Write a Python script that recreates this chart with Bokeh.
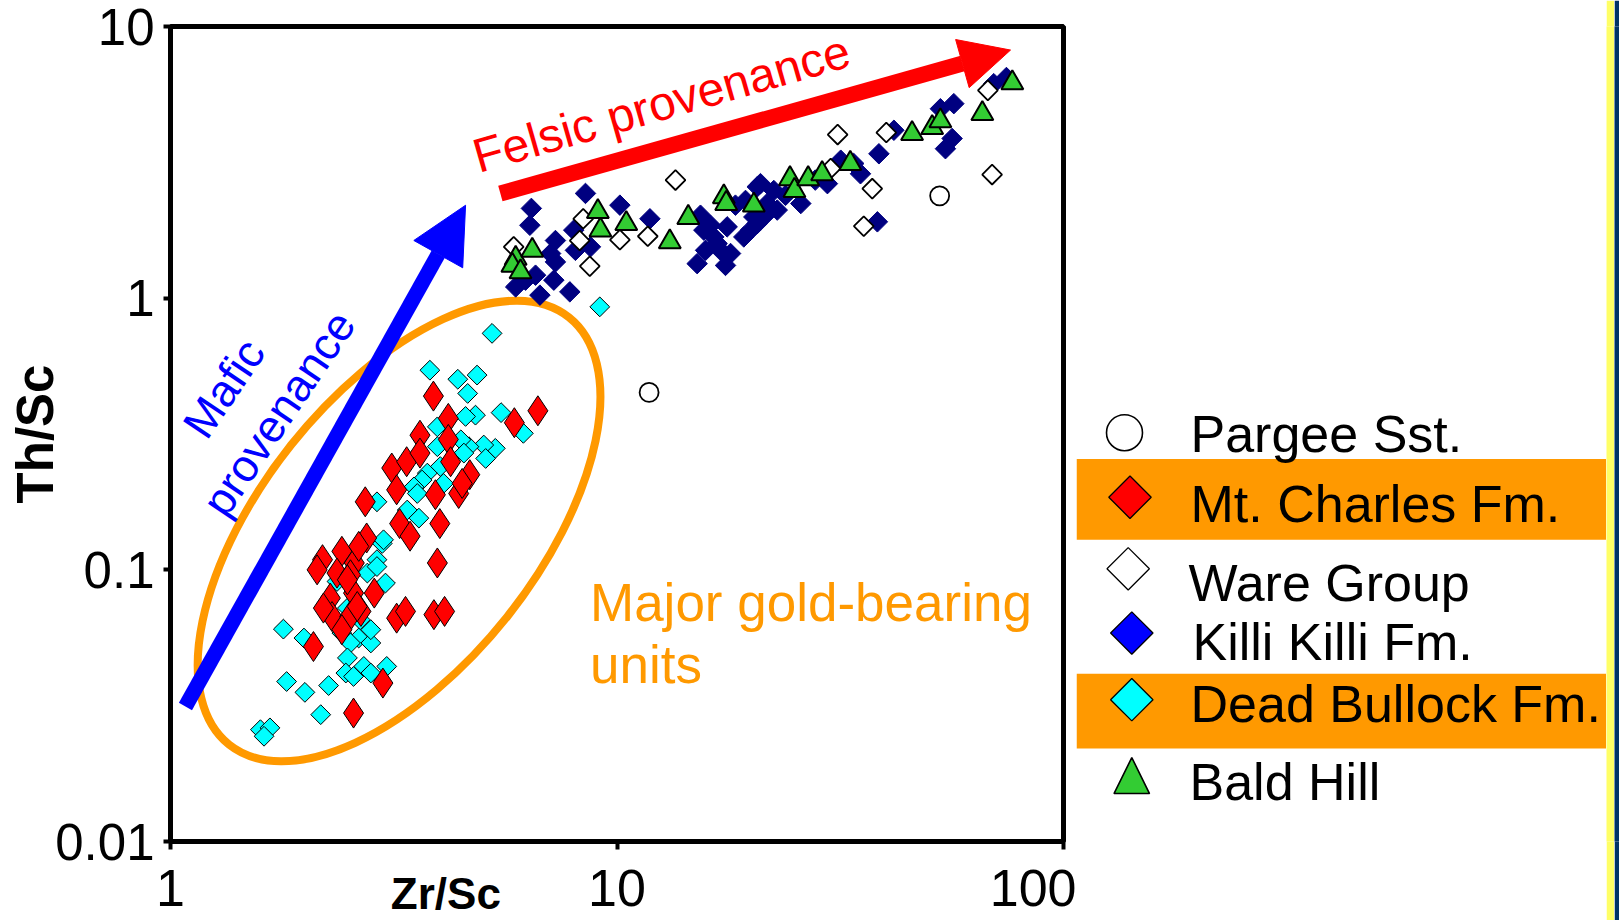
import numpy as np
from bokeh.plotting import figure
from bokeh.models import (Range1d, FixedTicker, CustomJSTickFormatter, Label,
                          Arrow, NormalHead, LogAxis)
from bokeh.layouts import row
from bokeh.embed import file_html
from bokeh.resources import INLINE
from bokeh.core.properties import value

# ---------------- data (Zr/Sc vs Th/Sc) ----------------
pargee_zr = [52.8, 11.8]
pargee_th = [2.38, 0.450]

mtcharles_zr = [3.88, 6.65, 5.89, 4.19, 3.62, 4.19, 3.13, 3.38, 3.62, 4.24, 4.68, 3.21,
                3.92, 4.42, 2.73, 3.26, 3.44, 4.01, 2.75, 2.42, 2.19, 2.13, 2.36, 2.58,
                2.53, 3.96, 2.28, 2.57, 2.86, 2.30, 2.52, 2.67, 2.42, 3.21, 3.36, 3.89,
                4.11, 2.09, 2.99, 2.57, 4.50, 2.64, 2.49, 2.62, 2.20]
mtcharles_th = [0.436, 0.385, 0.348, 0.361, 0.313, 0.302, 0.237, 0.250, 0.269, 0.250,
                0.224, 0.197, 0.189, 0.191, 0.178, 0.148, 0.133, 0.148, 0.131, 0.117,
                0.109, 0.100, 0.0973, 0.106, 0.0959, 0.106, 0.0787, 0.0821, 0.0821,
                0.0673, 0.0673, 0.0703, 0.0602, 0.0664, 0.0703, 0.0684, 0.0703, 0.0522,
                0.0383, 0.0297, 0.208, 0.122, 0.0919, 0.0733, 0.0723]

ware_zr = [13.52, 8.40, 5.87, 8.25, 10.15, 11.72, 8.69, 31.2, 40.1, 67.7, 69.2, 37.3,
           35.7, 30.1]
ware_th = [2.72, 1.96, 1.545, 1.63, 1.64, 1.69, 1.311, 4.00, 4.07, 5.82, 2.85, 2.53,
           1.84, 3.00]

killi_zr = [8.50, 6.43, 6.38, 10.15, 11.85, 8.00, 8.07, 8.72, 7.10, 7.28, 6.57, 7.22,
            5.93, 6.72, 7.84, 15.12, 15.65, 16.76, 17.65, 17.96, 19.23, 20.25, 20.61,
            16.48, 17.05, 56.8, 53.0, 41.7, 38.6, 56.3, 54.4, 69.8, 74.5, 38.3, 29.6,
            33.9, 35.1, 25.8, 20.96, 22.45, 21.7, 19.9, 20.6, 22.85, 31.7, 15.38, 16.2,
            18.42, 19.4, 15.79, 17.5, 21.5, 23.85, 27.8, 7.28, 6.24]
killi_th = [2.43, 2.14, 1.855, 2.20, 1.96, 1.78, 1.50, 1.545, 1.46, 1.36, 1.215, 1.165,
            1.10, 1.026, 1.055, 1.34, 1.78, 1.589, 1.83, 1.46, 1.68, 1.99, 2.57, 1.68,
            1.50, 5.20, 4.98, 4.15, 3.40, 3.87, 3.55, 6.16, 6.49, 1.91, 2.64, 3.13, 2.87,
            2.23, 2.64, 2.49, 2.23, 1.78, 1.88, 2.11, 3.22, 2.02, 1.855, 2.20, 2.29,
            1.50, 1.32, 2.02, 2.39, 2.72, 1.63, 1.165]

deadbullock_zr = [5.25, 3.81, 4.40, 4.86, 4.63, 5.50, 4.82, 4.58, 6.17, 3.96, 5.34, 5.03,
                  4.66, 5.08, 4.47, 3.96, 4.02, 3.76, 3.66, 3.51, 3.57, 2.90, 3.39, 3.60,
                  4.09, 4.54, 2.98, 2.90, 3.03, 2.76, 2.36, 2.49, 2.66, 2.42, 2.64, 2.81,
                  2.53, 1.79, 1.99, 2.49, 2.47, 2.57, 2.71, 2.81, 3.05, 1.82, 2.00, 2.26,
                  2.17, 1.59, 1.67, 1.62, 3.00, 2.90, 2.81, 9.15]
deadbullock_th = [0.742, 0.543, 0.503, 0.521, 0.446, 0.379, 0.371, 0.367, 0.318, 0.336,
                  0.280, 0.288, 0.284, 0.257, 0.301, 0.284, 0.240, 0.227, 0.214, 0.202,
                  0.191, 0.178, 0.166, 0.155, 0.208, 0.269, 0.125, 0.109, 0.0894, 0.0973,
                  0.0906, 0.0723, 0.0655, 0.0585, 0.0561, 0.0538, 0.0538, 0.0605, 0.0561,
                  0.0474, 0.0417, 0.0405, 0.0441, 0.0417, 0.0441, 0.0388, 0.0354, 0.0375,
                  0.0293, 0.0258, 0.0262, 0.0244, 0.129, 0.1028, 0.0602, 0.929]

baldhill_zr = [9.06, 9.18, 10.49, 13.13, 14.44, 5.93, 6.46, 5.83, 6.08, 17.35, 17.56,
               20.25, 24.4, 24.97, 26.8, 28.8, 33.3, 45.8, 50.8, 53.0, 65.8, 76.8]
baldhill_th = [2.08, 1.78, 1.88, 1.61, 1.98, 1.40, 1.50, 1.32, 1.25, 2.36, 2.23, 2.20,
               2.75, 2.49, 2.75, 2.87, 3.13, 4.03, 4.24, 4.49, 4.78, 6.20]

x_ticks = [1, 10, 100]
y_ticks = [0.01, 0.1, 1, 10]

legend_labels = ["Pargee Sst.", "Mt. Charles Fm.", "Ware Group", "Killi Killi Fm.",
                 "Dead Bullock Fm.", "Bald Hill"]

FONT = "Liberation Sans"

# ---------------- main plot ----------------
p = figure(width=1076, height=920, x_axis_type="log", y_axis_type="log",
           x_range=Range1d(1, 100), y_range=Range1d(0.01, 10),
           output_backend="svg", toolbar_location=None,
           min_border_left=170, min_border_right=13, min_border_top=26,
           min_border_bottom=78, background_fill_color="white",
           border_fill_color="white")
p.grid.visible = False
p.outline_line_color = "black"
p.outline_line_width = 5

fmt = "return String(tick);"
for ax in (p.xaxis[0], p.yaxis[0]):
    ax.axis_line_width = 5
    ax.major_tick_line_width = 4
    ax.major_tick_in = 0
    ax.minor_tick_line_color = None
    ax.major_label_text_font = FONT
    ax.major_label_text_color = "black"
    ax.formatter = CustomJSTickFormatter(code=fmt)
p.xaxis[0].ticker = FixedTicker(ticks=x_ticks, minor_ticks=[])
p.yaxis[0].ticker = FixedTicker(ticks=y_ticks, minor_ticks=[])
p.xaxis[0].major_tick_out = 8
p.yaxis[0].major_tick_out = 7
p.xaxis[0].major_label_text_font_size = "52px"
p.yaxis[0].major_label_text_font_size = "51px"
p.xaxis[0].major_label_standoff = 20
p.yaxis[0].major_label_standoff = 9

p.yaxis[0].axis_label = "Th/Sc"
p.yaxis[0].axis_label_text_font = FONT
p.yaxis[0].axis_label_text_font_size = "51px"
p.yaxis[0].axis_label_text_font_style = "bold"
p.yaxis[0].axis_label_text_color = "black"
p.yaxis[0].axis_label_standoff = -12

# x-axis title: an extra tick-less axis whose label is pulled up into the row of the
# tick labels; trailing no-break spaces move the visible text left, between 1 and 10
zr_axis = LogAxis(ticker=FixedTicker(ticks=[], minor_ticks=[]),
                  axis_line_color=None, major_tick_line_color=None,
                  minor_tick_line_color=None, major_tick_out=0, major_tick_in=0,
                  minor_tick_out=0, minor_tick_in=0,
                  axis_label="Zr/Sc" + "\u00A0" * 28, axis_label_text_font=FONT,
                  axis_label_text_font_size="44px", axis_label_text_font_style="bold",
                  axis_label_text_color="black", axis_label_standoff=-40)
p.add_layout(zr_axis, "below")

# gold-bearing ellipse
p.ellipse(x=[3.25], y=[0.139], width=[546], height=[276], angle=51.5,
          angle_units="deg", width_units="screen", height_units="screen",
          fill_color=None, line_color="#FF9900", line_width=8)

# series
p.scatter(deadbullock_zr, deadbullock_th, marker="square", size=14, angle=np.pi / 4,
          fill_color="#00FFFF", line_color="black", line_width=1)
p.scatter(mtcharles_zr, mtcharles_th, marker="diamond", size=30,
          fill_color="#FF0000", line_color="black", line_width=1)
p.scatter(killi_zr, killi_th, marker="square", size=14.5, angle=np.pi / 4,
          fill_color="#000080", line_color="#000080", line_width=1)
p.scatter(ware_zr, ware_th, marker="square", size=14, angle=np.pi / 4,
          fill_color="white", line_color="black", line_width=1.8)
p.scatter(baldhill_zr, baldhill_th, marker="triangle", size=22,
          fill_color="#33CC33", line_color="black", line_width=2)
p.scatter(pargee_zr, pargee_th, marker="circle", size=19,
          fill_color="white", line_color="black", line_width=1.8)

# provenance arrows
p.add_layout(Arrow(end=NormalHead(size=56, fill_color="#0000FF", line_color="#0000FF"),
                   x_start=1.080, y_start=0.0314, x_end=4.58, y_end=2.198,
                   line_color="#0000FF", line_width=15))
p.add_layout(Arrow(end=NormalHead(size=50, fill_color="#FF0000", line_color="#FF0000"),
                   x_start=5.48, y_start=2.427, x_end=76.1, y_end=8.19,
                   line_color="#FF0000", line_width=16))

p.add_layout(Label(x=1.318, y=0.4656, text="Mafic", angle=56, angle_units="deg",
                   text_align="center", text_baseline="alphabetic", text_font=FONT,
                   text_font_size="45px", text_color="#0000FF"))
p.add_layout(Label(x=1.748, y=0.3771, text="provenance", angle=56, angle_units="deg",
                   text_align="center", text_baseline="alphabetic", text_font=FONT,
                   text_font_size="45px", text_color="#0000FF"))
p.add_layout(Label(x=12.58, y=5.21, text="Felsic provenance", angle=16,
                   angle_units="deg", text_align="center", text_baseline="alphabetic",
                   text_font=FONT, text_font_size="48px", text_color="#FF0000"))
p.add_layout(Label(x=8.7, y=0.0760, text="Major gold-bearing", text_align="left",
                   text_baseline="alphabetic", text_font=FONT, text_font_size="53px",
                   text_color="#FF9900"))
p.add_layout(Label(x=8.7, y=0.0450, text="units", text_align="left",
                   text_baseline="alphabetic", text_font=FONT, text_font_size="53px",
                   text_color="#FF9900"))

# ---------------- legend panel ----------------
lg = figure(width=530, height=920, x_range=Range1d(1076, 1606),
            y_range=Range1d(842, 26), output_backend="svg", toolbar_location=None,
            min_border_left=0, min_border_right=0, min_border_top=26,
            min_border_bottom=78, x_axis_location=None, y_axis_location=None,
            outline_line_color=None, background_fill_color="white",
            border_fill_color="white")
lg.grid.visible = False

# highlight bands for the gold-bearing units
lg.quad(left=[1076, 1076], right=[1606, 1606], top=[459, 674], bottom=[540, 749],
        fill_color="#FF9900", line_color=None)

lg.scatter([1124], [432.7], marker="circle", size=36, fill_color="white",
           line_color="black", line_width=1.6)
lg.scatter([1129.5, 1127.7, 1131.3, 1131.3], [497.3, 569, 633.3, 700],
           marker="square", size=30, angle=np.pi / 4,
           fill_color=["#FF0000", "white", "#0000FF", "#00FFFF"],
           line_color="black", line_width=1.3)
lg.patch([1113.5, 1131.3, 1149], [794, 758, 794], fill_color="#33CC33",
         line_color="black", line_width=1.6)

lg.text(x=[1190, 1190, 1188, 1192, 1190, 1189],
        y=[434, 503.7, 582.7, 642, 704.3, 782], text=legend_labels,
        text_font=value(FONT), text_font_size="52px", text_color="black",
        text_align="left", text_baseline="alphabetic")


# ---------------- slide edge stripes (full height) ----------------
def stripe(width, color):
    s = figure(width=width, height=920, output_backend="svg", toolbar_location=None,
               min_border=0, x_axis_location=None, y_axis_location=None,
               outline_line_color=None, background_fill_color=color,
               border_fill_color=color)
    s.grid.visible = False
    return s


layout = row(p, lg, stripe(8, "#FFFF66"), stripe(5, "#003366"))
open("out.html", "w").write(file_html(layout, INLINE))
